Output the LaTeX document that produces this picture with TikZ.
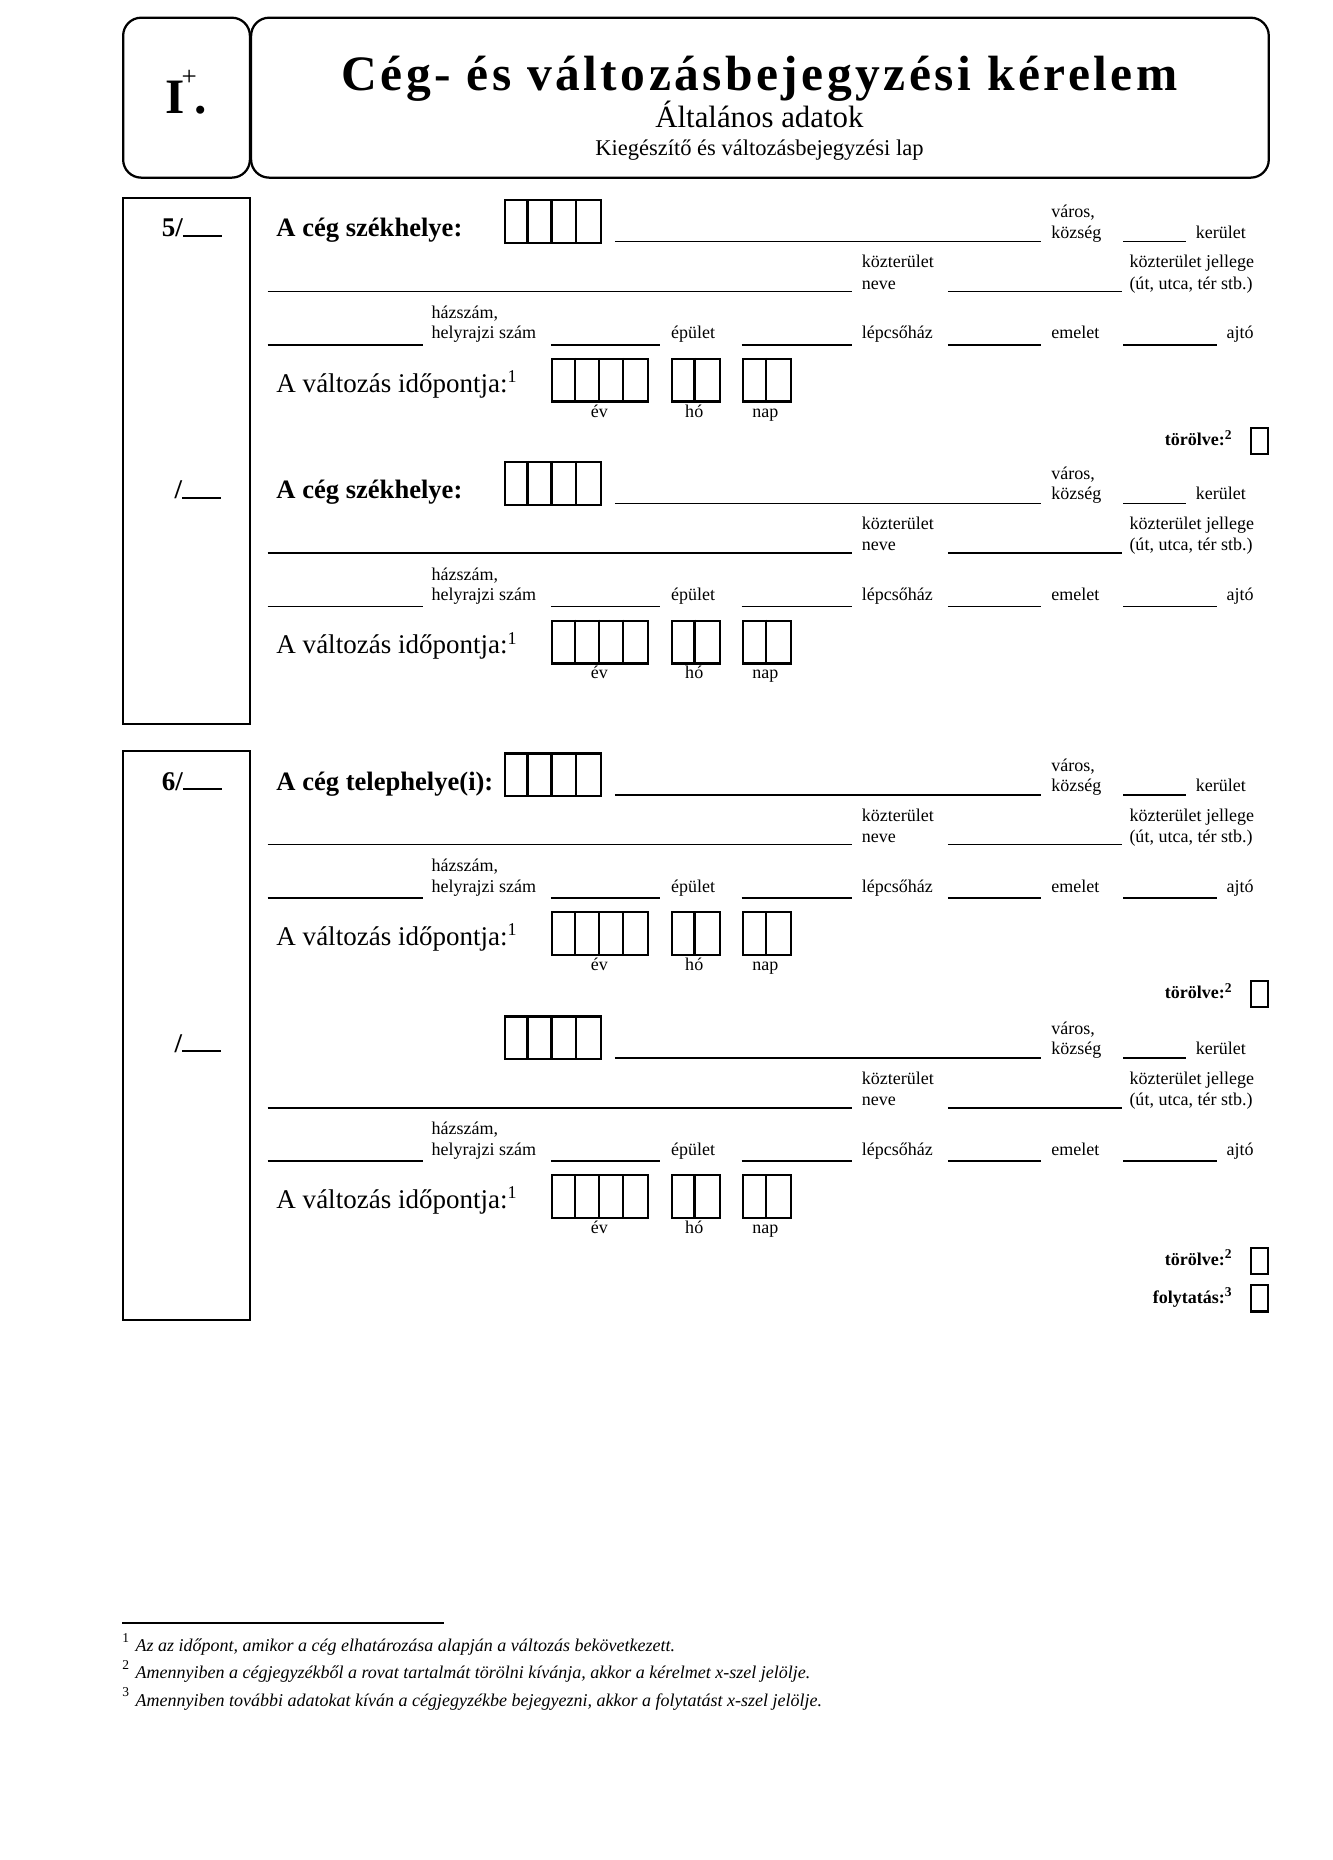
\documentclass[tikz,border=0pt]{standalone}
\usepackage{fontspec}
\setmainfont{Liberation Serif}
\newfontfamily\titlefont[LetterSpace=7]{Liberation Serif}
\tikzset{
  frame/.style={draw, line width=1pt},
  fillline/.style={line width=0.7pt},
  cellline/.style={line width=1pt},
  lbl/.style={inner sep=0pt, anchor=base west, font=\fontsize{8}{8}\selectfont},
  clbl/.style={inner sep=0pt, anchor=base, font=\fontsize{8}{8}\selectfont},
  headlbl/.style={inner sep=0pt, anchor=base west, font=\fontsize{11.8}{11.8}\selectfont\bfseries},
  datelbl/.style={inner sep=0pt, anchor=base west, font=\fontsize{12}{12}\selectfont},
  seclbl/.style={inner sep=0pt, anchor=base, font=\fontsize{12}{12}\selectfont\bfseries},
  torlbl/.style={inner sep=0pt, anchor=base east, font=\fontsize{8}{8}\selectfont\bfseries},
  fnlbl/.style={inner sep=0pt, anchor=base west, font=\fontsize{8}{8}\selectfont\itshape},
  fnnum/.style={inner sep=0pt, anchor=base west, font=\fontsize{6}{6}\selectfont},
}
\newcommand\cellgroup[4]{% x, y, number of cells, name
  \node[draw, cellline, inner sep=0pt, minimum width=#3*20.3*0.5263pt, minimum height=36*0.5263pt, anchor=north west] (#4) at (#1,#2) {};
  \pgfmathtruncatemacro\ncellsm{#3-1}
  \foreach \k in {1,...,\ncellsm} \draw[cellline] (#1+\k*20.3,#2) -- ++(0,36);
}
\newcommand\formentry[3]{% prefix, vertical shift, heading
\begin{scope}[shift={(0,#2)}]
  \node[headlbl] (#1-head) at (233,200) {#3};
  \cellgroup{425}{168}{4}{#1-irsz}
  \draw[fillline] (519,204) -- (879,204);
  \node[lbl] (#1-varos) at (887,184) {város,};
  \node[lbl] (#1-kozseg) at (887,201) {község};
  \draw[fillline] (948,204) -- (1001,204);
  \node[lbl] (#1-kerulet) at (1009,201) {kerület};
  \draw[fillline] (226,246) -- (719,246);
  \node[lbl] (#1-kt1) at (727,226) {közterület};
  \node[lbl] (#1-kt2) at (727,244) {neve};
  \draw[fillline] (800,246) -- (947,246);
  \node[lbl] (#1-kj1) at (953,226) {közterület jellege};
  \node[lbl] (#1-kj2) at (953,244) {(út, utca, tér stb.)};
  \draw[fillline] (226,291) -- (357,291);
  \node[lbl] (#1-hsz1) at (364,269) {házszám,};
  \node[lbl] (#1-hsz2) at (364,286) {helyrajzi szám};
  \draw[fillline] (465,291) -- (557,291);
  \node[lbl] (#1-epulet) at (566,286) {épület};
  \draw[fillline] (626,291) -- (719,291);
  \node[lbl] (#1-lepcso) at (727,286) {lépcsőház};
  \draw[fillline] (800,291) -- (879,291);
  \node[lbl] (#1-emelet) at (887,286) {emelet};
  \draw[fillline] (948,291) -- (1027,291);
  \node[lbl] (#1-ajto) at (1035,286) {ajtó};
  \node[datelbl] (#1-datum) at (233,331) {A változás időpontja:\textsuperscript{1}};
  \cellgroup{465}{302}{4}{#1-ev}
  \cellgroup{566}{302}{2}{#1-ho}
  \cellgroup{626}{302}{2}{#1-nap}
  \node[clbl] (#1-evl) at (506,352) {év};
  \node[clbl] (#1-hol) at (586,352) {hó};
  \node[clbl] (#1-napl) at (646,352) {nap};
\end{scope}}
\newcommand\checkrow[3]{% name, y baseline, label
  \node[torlbl] (#1-t) at (1041,#2) {#3};
  \node[draw, line width=0.9pt, inner sep=0pt, minimum width=14*0.5263pt, minimum height=22*0.5263pt] (#1-box) at (1063,#2-4) {};
}
\begin{document}
\begin{tikzpicture}[x=0.5263pt, y=-0.5263pt]
\useasboundingbox (0,0) rectangle (1125,1570);
% header
\node[draw, line width=1pt, rounded corners=8pt, inner sep=0pt, minimum width=107*0.5263pt, minimum height=135*0.5263pt, anchor=north west] (hleft) at (103,14) {};
\node[draw, line width=1pt, rounded corners=8pt, inner sep=0pt, minimum width=859*0.5263pt, minimum height=135*0.5263pt, anchor=north west] (hright) at (211,14) {};
\node[inner sep=0pt, anchor=base west, font=\fontsize{22}{22}\selectfont\bfseries] (roman) at (139,96) {I};
\node[inner sep=0pt, anchor=base west, font=\fontsize{12}{12}\selectfont] (plus) at (153,72) {+};
\node[inner sep=0pt, anchor=base west, font=\fontsize{22}{22}\selectfont\bfseries] (rdot) at (164,96) {.};
\node[inner sep=0pt, anchor=base, font=\fontsize{22}{22}\titlefont\bfseries] (title) at (641,76) {Cég- és változásbejegyzési kérelem};
\node[inner sep=0pt, anchor=base, font=\fontsize{13.7}{13.7}\selectfont] (subtitle) at (641,108) {Általános adatok};
\node[inner sep=0pt, anchor=base, font=\fontsize{10}{10}\selectfont] (subsub) at (641,131) {Kiegészítő és változásbejegyzési lap};
% section 5
\node[frame, inner sep=0pt, minimum width=107*0.5263pt, minimum height=444*0.5263pt, anchor=north west] (sec5) at (103,166) {};
\node[seclbl] (s5a) at (162,200) {5/\rule{1.45em}{0.8pt}};
\node[seclbl] (s5b) at (167,421) {/\rule{1.45em}{0.8pt}};
\formentry{e1}{0}{A cég székhelye:}
\checkrow{c1}{376}{törölve:\textsuperscript{2}}
\formentry{e2}{221}{A cég székhelye:}
% section 6
\node[frame, inner sep=0pt, minimum width=107*0.5263pt, minimum height=480*0.5263pt, anchor=north west] (sec6) at (103,633) {};
\node[seclbl] (s6a) at (162,667) {6/\rule{1.45em}{0.8pt}};
\node[seclbl] (s6b) at (167,888) {/\rule{1.45em}{0.8pt}};
\formentry{e3}{467}{A cég telephelye(i):}
\checkrow{c3}{843}{törölve:\textsuperscript{2}}
\formentry{e4}{689}{}
\checkrow{c4}{1068}{törölve:\textsuperscript{2}}
\checkrow{c5}{1100}{folytatás:\textsuperscript{3}}
% footnotes
\coordinate (fnl) at (103,1370);
\coordinate (fnr) at (375,1370);
\draw[line width=0.8pt] (fnl) -- (fnr);
\node[fnnum] (n1) at (103,1386) {1};
\node[fnlbl] (f1) at (114,1394) {Az az időpont, amikor a cég elhatározása alapján a változás bekövetkezett.};
\node[fnnum] (n2) at (103,1409) {2};
\node[fnlbl] (f2) at (114,1417) {Amennyiben a cégjegyzékből a rovat tartalmát törölni kívánja, akkor a kérelmet x-szel jelölje.};
\node[fnnum] (n3) at (103,1432) {3};
\node[fnlbl] (f3) at (114,1440) {Amennyiben további adatokat kíván a cégjegyzékbe bejegyezni, akkor a folytatást x-szel jelölje.};
\end{tikzpicture}
\end{document}
